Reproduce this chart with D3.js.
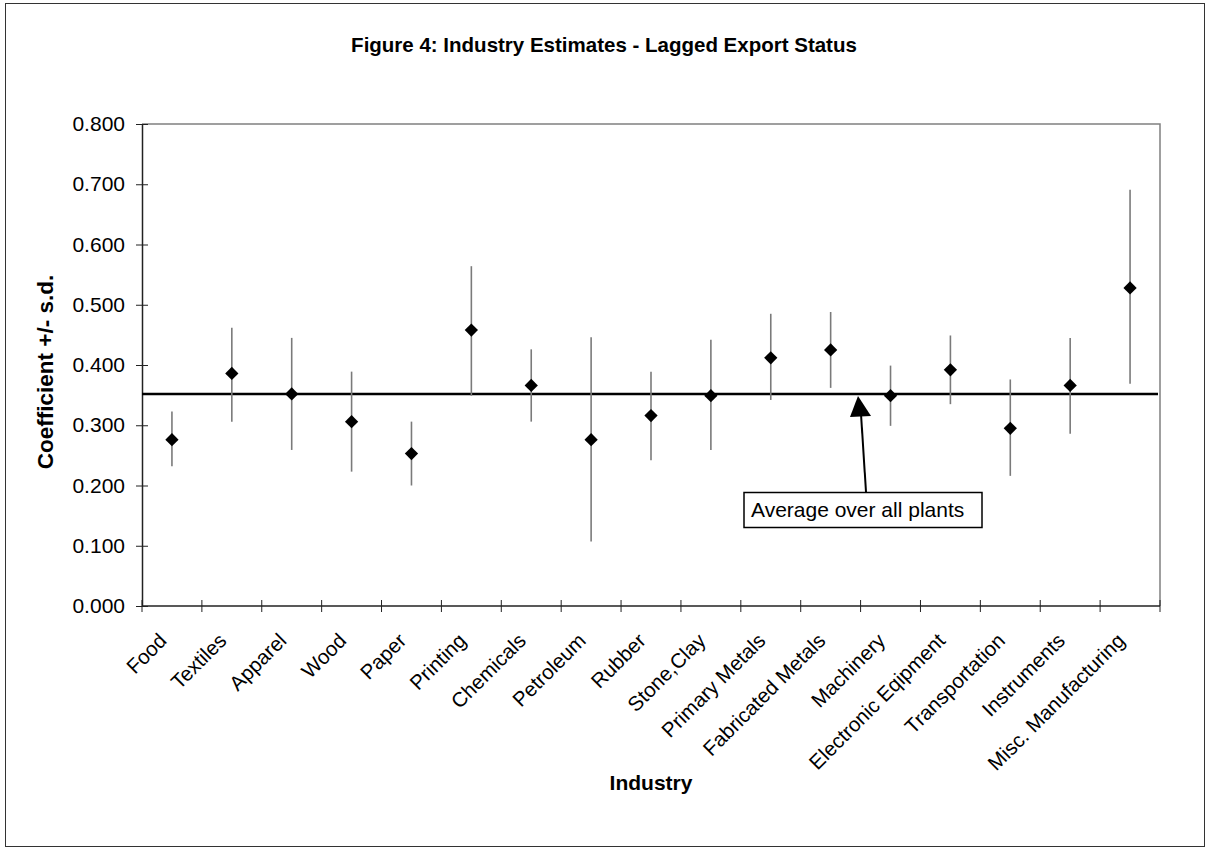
<!DOCTYPE html>
<html>
  <head>
    <title>Industry Estimates - Lagged Export Status</title>
    <script src="https://d3js.org/d3.v7.min.js"></script>
    <style>
      body { margin: 0; background: #fff; }
      svg text { font-family: "Liberation Sans", Arial, sans-serif; fill: #000; }
    </style>
  </head>
  <body>
    <svg id="chart" width="1208" height="852"></svg>
  </body>
  <script type="text/javascript">
    var industries = ["Food", "Textiles", "Apparel", "Wood", "Paper", "Printing", "Chemicals",
      "Petroleum", "Rubber", "Stone,Clay", "Primary Metals", "Fabricated Metals", "Machinery",
      "Electronic Eqipment", "Transportation", "Instruments", "Misc. Manufacturing"];
    var coef  = [0.276, 0.386, 0.352, 0.306, 0.253, 0.458, 0.366, 0.276, 0.316, 0.349, 0.412, 0.425, 0.349, 0.392, 0.295, 0.366, 0.528];
    var upper = [0.323, 0.462, 0.445, 0.389, 0.306, 0.564, 0.426, 0.446, 0.389, 0.442, 0.485, 0.488, 0.399, 0.449, 0.376, 0.445, 0.691];
    var lower = [0.232, 0.306, 0.259, 0.223, 0.200, 0.349, 0.306, 0.107, 0.242, 0.259, 0.342, 0.362, 0.299, 0.335, 0.216, 0.286, 0.369];
    var average = 0.352;
    var yTicks = [0, 0.1, 0.2, 0.3, 0.4, 0.5, 0.6, 0.7, 0.8];

    var svg = d3.select("#chart");
    var pLeft = 142, pRight = 1160, pTop = 124, pBottom = 606;

    var x = d3.scaleBand().domain(industries).range([pLeft, pRight]);
    var y = d3.scaleLinear().domain([0, 0.8]).range([pBottom, pTop]);

    // outer frame
    svg.append("rect")
      .attr("x", 5.5).attr("y", 3.5).attr("width", 1199).attr("height", 843)
      .attr("fill", "none").attr("stroke", "#333").attr("stroke-width", 1);

    // title
    svg.append("text")
      .attr("x", 604).attr("y", 52)
      .attr("text-anchor", "middle")
      .style("font-size", "20.5px").style("font-weight", "bold")
      .text("Figure 4: Industry Estimates - Lagged Export Status");

    // top and right border of plot area
    svg.append("path")
      .attr("d", "M" + pLeft + "," + pTop + "H" + pRight + "V" + pBottom)
      .attr("fill", "none").attr("stroke", "#808080").attr("stroke-width", 1.5);

    // y axis
    var yAxis = svg.append("g")
      .attr("transform", "translate(" + pLeft + ",0)")
      .call(d3.axisLeft(y).tickValues(yTicks).tickFormat(d3.format(".3f")).tickSizeOuter(0).tickPadding(11));
    yAxis.select(".domain").attr("stroke", "#222").attr("stroke-width", 1.5);
    yAxis.selectAll(".tick line").attr("x1", 6).attr("x2", -6).attr("stroke", "#222");
    yAxis.selectAll(".tick text")
      .style("font-size", "21px")
      .style("font-family", "Liberation Sans, Arial, sans-serif")
      .attr("fill", "#000");

    // x axis with ticks at category boundaries
    var xAxis = svg.append("g")
      .attr("transform", "translate(0," + pBottom + ")");
    xAxis.append("line")
      .attr("x1", pLeft).attr("x2", pRight)
      .attr("stroke", "#222").attr("stroke-width", 1.5);
    xAxis.selectAll("line.tk")
      .data(industries.concat([null]))
      .enter().append("line")
      .attr("class", "tk")
      .attr("x1", function(d, i) { return pLeft + i * x.step(); })
      .attr("x2", function(d, i) { return pLeft + i * x.step(); })
      .attr("y1", -6).attr("y2", 6)
      .attr("stroke", "#222");
    xAxis.selectAll("text")
      .data(industries)
      .enter().append("text")
      .attr("transform", function(d) {
        return "translate(" + (x(d) + x.bandwidth() / 2 - 4) + ",36) rotate(-45)";
      })
      .attr("text-anchor", "end")
      .style("font-size", "20.5px")
      .text(function(d) { return d; });

    // axis titles
    svg.append("text")
      .attr("transform", "translate(53,372) rotate(-90)")
      .attr("text-anchor", "middle")
      .style("font-size", "22.5px").style("font-weight", "bold")
      .text("Coefficient +/- s.d.");
    svg.append("text")
      .attr("x", (pLeft + pRight) / 2).attr("y", 790)
      .attr("text-anchor", "middle")
      .style("font-size", "21px").style("font-weight", "bold")
      .text("Industry");

    // average line
    svg.append("line")
      .attr("x1", pLeft).attr("x2", pRight - 2)
      .attr("y1", y(average)).attr("y2", y(average))
      .attr("stroke", "#000").attr("stroke-width", 2.5);

    // error bars
    svg.selectAll("line.err")
      .data(industries)
      .enter().append("line")
      .attr("class", "err")
      .attr("x1", function(d) { return x(d) + x.bandwidth() / 2; })
      .attr("x2", function(d) { return x(d) + x.bandwidth() / 2; })
      .attr("y1", function(d, i) { return y(upper[i]); })
      .attr("y2", function(d, i) { return y(lower[i]); })
      .attr("stroke", "#7a7a7a").attr("stroke-width", 1.6);

    // diamonds
    var diamond = d3.symbol().type(d3.symbolSquare).size(88);
    svg.selectAll("path.pt")
      .data(industries)
      .enter().append("path")
      .attr("class", "pt")
      .attr("d", diamond)
      .attr("transform", function(d, i) {
        return "translate(" + (x(d) + x.bandwidth() / 2) + "," + y(coef[i]) + ") rotate(45)";
      })
      .attr("fill", "#000");

    // annotation
    var tipX = 858, tipY = y(average) + 2;
    svg.append("line")
      .attr("x1", 866).attr("y1", 492)
      .attr("x2", 861).attr("y2", tipY + 18)
      .attr("stroke", "#000").attr("stroke-width", 2);
    svg.append("path")
      .attr("d", "M" + tipX + "," + tipY + "L" + (tipX - 8) + "," + (tipY + 21) + "L" + (tipX + 13) + "," + (tipY + 20) + "Z")
      .attr("fill", "#000");
    svg.append("rect")
      .attr("x", 744).attr("y", 492.5).attr("width", 238).attr("height", 35)
      .attr("fill", "#fff").attr("stroke", "#000").attr("stroke-width", 1.5);
    svg.append("text")
      .attr("x", 751).attr("y", 517)
      .style("font-size", "21px")
      .text("Average over all plants");
  </script>
</html>
